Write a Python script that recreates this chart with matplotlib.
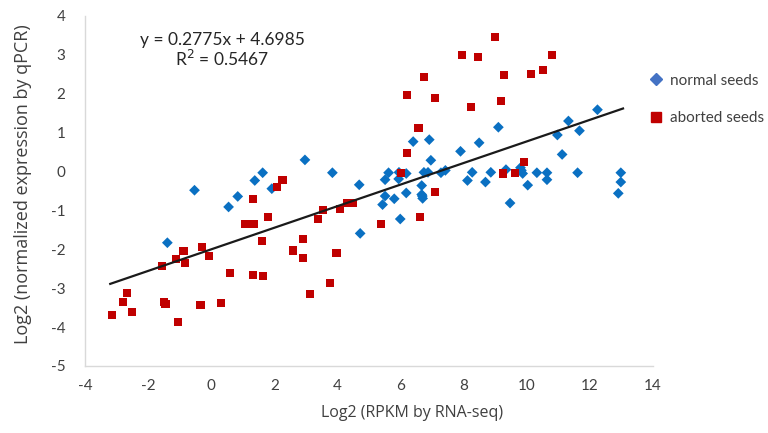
import matplotlib
matplotlib.use("Agg")
import matplotlib.pyplot as plt
from matplotlib.lines import Line2D
import numpy as np

# normal seeds (blue diamonds)
normal_x = [-1.39, -0.53, 0.55, 0.84, 1.38, 1.63, 1.92, 2.97, 3.84, 4.69, 4.72, 5.43, 5.51, 5.51,
            5.62, 5.80, 5.94, 5.95, 5.99, 6.18, 6.18, 6.40, 6.67, 6.67, 6.69, 6.70, 6.74, 6.87,
            6.91, 6.96, 7.28, 7.42, 7.90, 8.12, 8.27, 8.49, 8.69, 8.86, 9.10, 9.34, 9.47, 9.80,
            9.83, 9.87, 10.03, 10.32, 10.64, 10.64, 10.97, 11.12, 11.32, 11.61, 11.67, 12.24,
            12.98, 12.98, 12.90]
normal_y = [-1.83, -0.48, -0.91, -0.64, -0.23, -0.03, -0.44, 0.30, -0.03, -0.34, -1.59, -0.85,
            -0.63, -0.21, -0.03, -0.70, -0.19, -0.02, -1.22, -0.05, -0.55, 0.77, -0.36, -0.59,
            -0.63, -0.69, -0.02, -0.02, 0.82, 0.29, -0.03, 0.03, 0.52, -0.23, -0.02, 0.74, -0.27,
            -0.02, 1.14, 0.05, -0.81, 0.10, 0.03, -0.05, -0.35, -0.03, -0.03, -0.21, 0.94, 0.44,
            1.30, -0.03, 1.05, 1.59, -0.03, -0.27, -0.56]

# aborted seeds (red squares)
aborted_x = [-3.14, -2.79, -2.66, -2.51, -1.56, -1.50, -1.45, -1.06, -1.12, -0.88, -0.83, -0.29,
             -0.07, -0.34, 0.31, 0.60, 1.06, 1.21, 1.36, 1.33, 1.61, 1.33, 1.63, 1.81, 2.08,
             2.26, 2.92, 2.58, 2.92, 3.14, 3.76, 3.97, 3.39, 3.55, 4.08, 4.29, 4.48, 5.38, 6.01,
             6.61, 7.08, 6.20, 6.57, 6.21, 6.74, 7.08, 7.96, 8.24, 8.45, 9.00, 9.27, 9.17, 10.13,
             10.52, 10.81, 9.90, 9.24, 9.64]
aborted_y = [-3.69, -3.35, -3.12, -3.61, -2.43, -3.35, -3.40, -3.86, -2.24, -2.04, -2.35, -1.93,
             -2.16, -3.44, -3.39, -2.62, -1.34, -1.34, -1.34, -0.71, -1.79, -2.67, -2.68, -1.16,
             -0.40, -0.21, -1.73, -2.03, -2.22, -3.14, -2.87, -2.09, -1.22, -0.98, -0.96, -0.82,
             -0.82, -1.34, -0.03, -1.17, -0.53, 0.47, 1.11, 1.98, 2.42, 1.89, 2.99, 1.65, 2.94,
             3.47, 2.49, 1.82, 2.51, 2.60, 2.99, 0.24, -0.05, -0.04]

# trend line (as drawn in the chart)
trend_slope = 0.2775
trend_intercept = -2.0
trend_range = [-3.2, 13.05]

equation_text = "y = 0.2775x + 4.6985"
r2_text = "R$^2$ = 0.5467"

x_ticks = [-4, -2, 0, 2, 4, 6, 8, 10, 12, 14]
y_ticks = [4, 3, 2, 1, 0, -1, -2, -3, -4, -5]

narrow = ['Lato', 'DejaVu Sans']
label_font = ['Open Sans', 'DejaVu Sans']

fig = plt.figure(figsize=(7.68, 4.33), dpi=100)
ax = fig.add_axes([85/768, 1 - 366/433, (653 - 85)/768, (366 - 16)/433])

ax.scatter(normal_x, normal_y, marker='D', s=30, color='#0A70C2', edgecolors='none', zorder=3)
ax.scatter(aborted_x, aborted_y, marker='s', s=34, color='#C00000', edgecolors='none', zorder=3)

tx = np.array(trend_range)
ax.plot(tx, trend_slope * tx + trend_intercept, color='#1a1a1a', lw=1.6, zorder=4)

ax.set_xlim(-4, 14)
ax.set_ylim(-5, 4)
ax.set_xticks(x_ticks)
ax.set_yticks(y_ticks)
ax.set_xticklabels([str(t) for t in x_ticks], family=narrow, fontsize=11, color='#404040')
ax.set_yticklabels([str(t) for t in y_ticks], family=narrow, fontsize=11, color='#404040')
ax.tick_params(length=0, pad=9)
ax.tick_params(axis='y', pad=14)

for s in ['top', 'right']:
    ax.spines[s].set_visible(False)
for s in ['left', 'bottom']:
    ax.spines[s].set_color('#d9d9d9')
    ax.spines[s].set_linewidth(1.0)

ax.set_xlabel("Log2 (RPKM by RNA-seq)", family=label_font, fontsize=11.5, color='#404040')
ax.xaxis.set_label_coords((412 - 85) / (653 - 85), -(413 - 366) / (366 - 16))
ax.xaxis.label.set_va('center')
ax.set_ylabel("Log2 (normalized expression by qPCR)", family=label_font, fontsize=13,
              color='#404040')
ax.yaxis.set_label_coords(-(85 - 23) / (653 - 85), (366 - 184) / (366 - 16))
ax.yaxis.label.set_va('center')

fig.text(222/768, 1 - 40/433, equation_text, family=narrow, fontsize=12.5, color='#262626',
         ha='center', va='center')
fig.text(222/768, 1 - 59/433, r2_text, family=narrow, fontsize=12.5, color='#262626',
         ha='center', va='center')

handles = [Line2D([], [], marker='D', ls='none', color='#4472C4', markersize=6.5),
           Line2D([], [], marker='s', ls='none', color='#C00000', markersize=7)]
fig.legend(handles, ['normal seeds', 'aborted seeds'], loc='upper left',
           bbox_to_anchor=(636/768, 1 - 63/433), frameon=False, handletextpad=0.3,
           labelspacing=1.55, prop={'family': narrow, 'size': 11}, labelcolor='#404040',
           handlelength=1.2, borderpad=0.2)

fig.savefig("out.png", dpi=100)
